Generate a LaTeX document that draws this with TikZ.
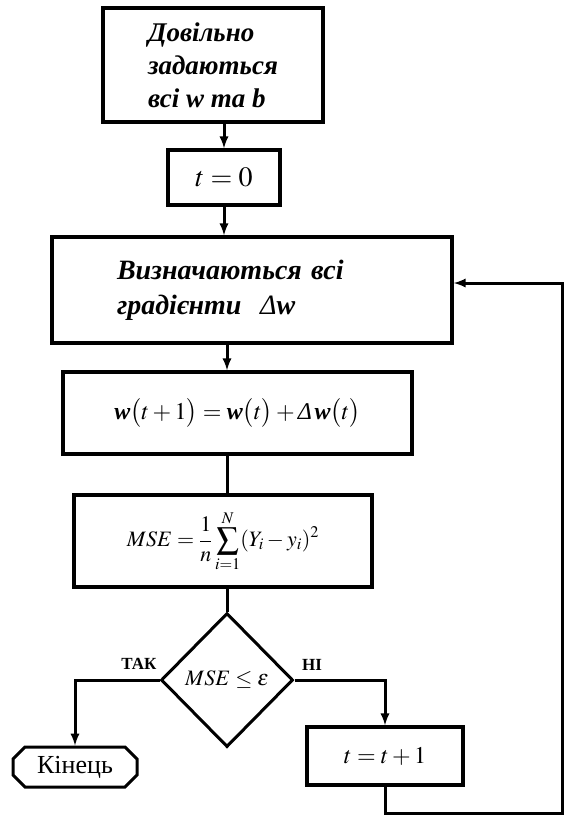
\documentclass[tikz,border=0pt]{standalone}
\usepackage{amsmath}
\usepackage{mathptmx}
\usepackage{fontspec}
\setmainfont{Liberation Serif}
\usepackage{tikz}
\usetikzlibrary{arrows,shapes.geometric,shapes.misc}

\begin{document}
\begin{tikzpicture}[x=1pt,y=-1pt,
  box/.style={draw,line width=3.5pt,inner sep=0pt},
  decision/.style={diamond,draw,line width=3pt,inner sep=0pt,
    minimum width=132pt,minimum height=134pt},
  endbox/.style={chamfered rectangle,chamfered rectangle xsep=6pt,
    chamfered rectangle ysep=6pt,draw,line width=3pt,inner sep=0pt},
  line/.style={line width=3pt},
  arrow/.style={line,-latex}]
  \useasboundingbox (0,0) rectangle (565,815);

  % блоки
  \node[box,minimum width=220pt,minimum height=114pt,align=left,
    font=\fontsize{27}{33}\selectfont\bfseries\itshape] (init) at (213,65)
    {Довільно\\задаються\\всі w та b};
  \node[box,minimum width=112pt,minimum height=55pt,
    font=\fontsize{28}{32}\selectfont] (t0) at (224,177.5) {$t=0$};
  \node[box,minimum width=400pt,minimum height=106pt,inner xsep=65pt,
    text width=270pt,align=left,
    font=\fontsize{28}{35}\selectfont\bfseries\itshape] (grad) at (252,290)
    {Визначаються всі\\градієнти\ \ \textmd{Δ}w};
  \node[box,minimum width=349pt,minimum height=82pt,
    font=\fontsize{24}{28}\selectfont] (upd) at (237.5,413)
    {$\textbf{\textit{w}}\bigl(t+1\bigr)=\textbf{\textit{w}}\bigl(t\bigr)
      +\textit{Δ}\,\textbf{\textit{w}}\bigl(t\bigr)$};
  \node[box,minimum width=298pt,minimum height=92pt,
    font=\fontsize{22}{26}\selectfont] (mse) at (223,541)
    {$\displaystyle MSE=\frac{1}{n}\sum_{i=1}^{N}(Y_i-y_i)^2$};
  \node[decision,font=\fontsize{22}{26}\selectfont] (check) at (227,680)
    {$MSE\le\varepsilon$};
  \node[endbox,minimum width=124pt,minimum height=40pt,
    font=\fontsize{26}{30}\selectfont] (stop) at (75,767) {Кінець};
  \node[box,minimum width=156pt,minimum height=58pt,
    font=\fontsize{24}{28}\selectfont] (next) at (385,756) {$t=t+1$};

  % підписи
  \node[font=\fontsize{17}{19}\selectfont\bfseries] (yes) at (139,664) {ТАК};
  \node[font=\fontsize{17}{19}\selectfont\bfseries] (no) at (312,665) {НІ};

  % стрілки
  \draw[arrow] (t0.north |- init.south) -- (t0.north);
  \draw[arrow] (t0.south) -- (t0.south |- grad.north);
  \draw[arrow] (check.north |- grad.south) -- (check.north |- upd.north);
  \draw[line] (check.north |- upd.south) -- (check.north |- mse.north);
  \draw[line] (mse.south -| check.north) -- (check.north);
  \draw[arrow] (check.west) -| (stop.north);
  \draw[arrow] (check.east) -| (next.north);

  % цикл
  \coordinate (loop) at (562,813);
  \draw[arrow] (next.south) |- (loop) |- ([yshift=7pt]grad.east);
\end{tikzpicture}
\end{document}
